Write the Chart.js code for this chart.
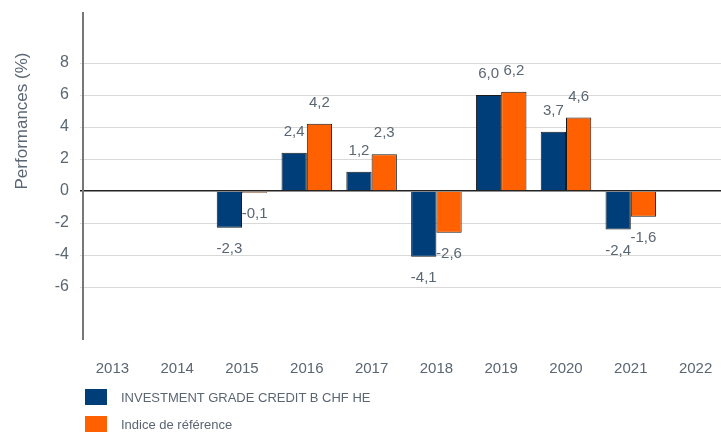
<!DOCTYPE html>
<html>
<head>
<meta charset="utf-8">
<script src="https://cdn.jsdelivr.net/npm/chart.js@4.4.1/dist/chart.umd.min.js"></script>
<style>
  html, body { margin: 0; padding: 0; background: #fff; overflow: hidden; width: 721px; height: 433px; }
  #wrap { position: absolute; left: 0; top: 0; width: 728px; height: 433px; }
  #legend { position: absolute; left: 85px; top: 389px; font-family: "Liberation Sans", Arial, sans-serif; font-size: 13px; color: #5b6673; }
  .item { position: relative; height: 27px; }
  .sw { position: absolute; left: 0; top: 0; width: 22px; height: 16px; }
  .lt { position: absolute; left: 36px; top: 1px; white-space: nowrap; }
</style>
</head>
<body>
<div id="wrap"><canvas id="c" width="728" height="433"></canvas></div>
<div id="legend"></div>
<script>
const categories = ["2013","2014","2015","2016","2017","2018","2019","2020","2021","2022"];
const fundValues = [null, null, -2.3, 2.4, 1.2, -4.1, 6.0, 3.7, -2.4, null];
const benchValues = [null, null, -0.1, 4.2, 2.3, -2.6, 6.2, 4.6, -1.6, null];
const seriesNames = ["INVESTMENT GRADE CREDIT B CHF HE", "Indice de référence"];
const seriesColors = ["#003e79", "#ff6000"];
const yTicks = [-6, -4, -2, 0, 2, 4, 6, 8];

const textColor = "#5b6673";
const fontFam = "'Liberation Sans', Arial, sans-serif";

const labelPlugin = {
  id: 'valueLabels',
  afterDatasetsDraw(chart) {
    const ctx = chart.ctx;
    ctx.save();
    ctx.font = "15px " + fontFam;
    ctx.fillStyle = textColor;
    ctx.textAlign = "center";
    ctx.textBaseline = "middle";
    chart.data.datasets.forEach((ds, di) => {
      const meta = chart.getDatasetMeta(di);
      meta.data.forEach((bar, i) => {
        const v = ds.data[i];
        if (v === null || v === undefined) return;
        const y = v >= 0 ? bar.y - 21 : bar.y + 21;
        ctx.fillText(v.toFixed(1).replace('.', ','), bar.x, y);
      });
    });
    ctx.restore();
  }
};

const axisPlugin = {
  id: 'axisAndTitle',
  afterDraw(chart) {
    const ctx = chart.ctx;
    const a = chart.chartArea;
    ctx.save();
    ctx.strokeStyle = "#777";
    ctx.lineWidth = 2;
    ctx.beginPath();
    ctx.moveTo(a.left + 3, a.top);
    ctx.lineTo(a.left + 3, a.bottom);
    ctx.stroke();
    ctx.font = "17px " + fontFam;
    ctx.fillStyle = textColor;
    ctx.textAlign = "center";
    ctx.textBaseline = "middle";
    ctx.translate(22, 121);
    ctx.rotate(-Math.PI / 2);
    ctx.fillText("Performances (%)", 0, 0);
    ctx.restore();
  }
};

new Chart(document.getElementById('c'), {
  type: 'bar',
  data: {
    labels: categories,
    datasets: [
      { label: seriesNames[0], data: fundValues, backgroundColor: seriesColors[0], borderColor: "#1a1a1a", borderWidth: 1 },
      { label: seriesNames[1], data: benchValues, backgroundColor: seriesColors[1], borderColor: "#1a1a1a", borderWidth: 1 }
    ]
  },
  options: {
    responsive: false,
    animation: false,
    layout: { padding: { top: 12, left: 0, right: 0, bottom: 0 } },
    datasets: { bar: { categoryPercentage: 0.78, barPercentage: 1.0 } },
    plugins: { legend: { display: false }, tooltip: { enabled: false } },
    scales: {
      x: {
        grid: { display: false },
        border: { display: false },
        ticks: { color: textColor, font: { size: 15, family: fontFam }, padding: 12, maxRotation: 0 },
        afterFit(scale) { scale.height = 93; scale.paddingLeft = 0; scale.paddingRight = 0; }
      },
      y: {
        min: -9.31,
        max: 11.19,
        afterBuildTicks(scale) { scale.ticks = yTicks.map(v => ({ value: v })); },
        grid: {
          drawTicks: false,
          color: ctx => ctx.tick && ctx.tick.value === 0 ? "#222" : "#d9d9d9",
          lineWidth: ctx => ctx.tick && ctx.tick.value === 0 ? 1.5 : 1
        },
        border: { display: false },
        ticks: { color: textColor, font: { size: 16, family: fontFam }, padding: 11, callback: v => String(v) },
        afterFit(scale) { scale.width = 80; scale.paddingTop = 0; scale.paddingBottom = 0; }
      }
    }
  },
  plugins: [labelPlugin, axisPlugin]
});

const legend = document.getElementById('legend');
seriesNames.forEach((name, i) => {
  const item = document.createElement('div');
  item.className = 'item';
  const sw = document.createElement('div');
  sw.className = 'sw';
  sw.style.background = seriesColors[i];
  const lt = document.createElement('div');
  lt.className = 'lt';
  lt.textContent = name;
  item.appendChild(sw);
  item.appendChild(lt);
  legend.appendChild(item);
});
</script>
</body>
</html>
